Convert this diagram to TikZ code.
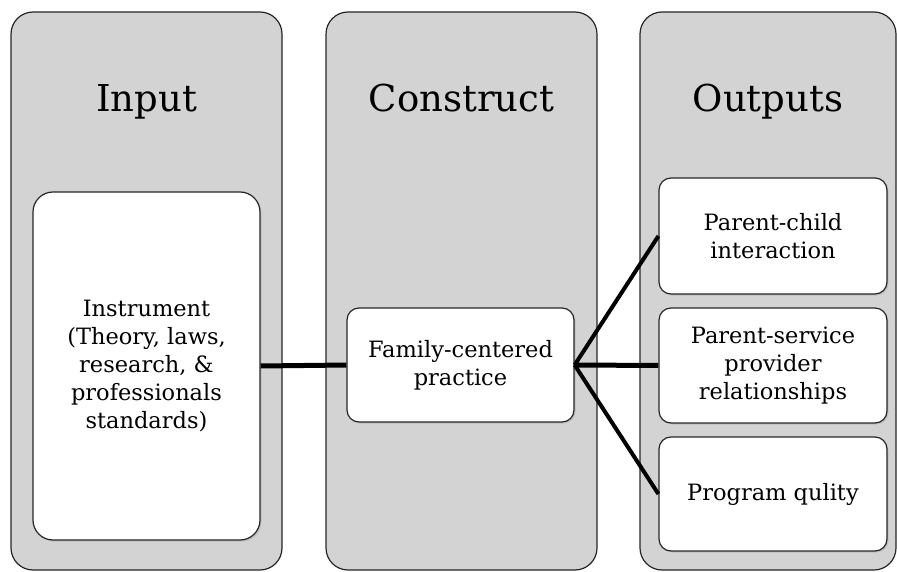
\documentclass[tikz,border=0pt]{standalone}
\usepackage{fontspec}
\setmainfont{DejaVu Serif}
\usetikzlibrary{positioning,shadows}
\definecolor{PanelGray}{HTML}{D3D3D3}

\begin{document}
\begin{tikzpicture}[x=1pt,y=-1pt,
  panel/.style={draw=black!85, line width=1.2pt, fill=PanelGray, rounded corners=22pt,
    minimum width=#1, minimum height=558pt, inner sep=0pt},
  title/.style={font=\fontsize{37}{40}\selectfont, anchor=base},
  card/.style={draw=black!85, line width=1.2pt, fill=white, rounded corners=12pt,
    align=center, inner sep=0pt, font=\fontsize{22.5}{28}\selectfont,
    drop shadow={shadow xshift=1.5pt, shadow yshift=-1.5pt, opacity=0.25}},
  link/.style={line width=4pt}]
  \useasboundingbox (0,0) rectangle (897,572);
  % columns
  \node[panel=271pt] (pin) at (146.5,291) {};
  \node[panel=271pt] (pcon) at (461.5,291) {};
  \node[panel=256pt] (pout) at (768,291) {};
  \node[title] (tin) at (146.5,112) {Input};
  \node[title] (tcon) at (461.5,112) {Construct};
  \node[title] (tout) at (768,112) {Outputs};
  % boxes
  \node[card, rounded corners=20pt, minimum width=227pt, minimum height=348pt] (instr) at (146.5,366)
    {Instrument\\(Theory, laws,\\research, \&\\professionals\\standards)};
  \node[card, minimum width=227pt, minimum height=114pt] (fcp) at (460.5,365)
    {Family-centered\\practice};
  \node[card, minimum width=228pt, minimum height=116pt] (pci) at (773,236)
    {Parent-child\\interaction};
  \node[card, minimum width=228pt, minimum height=115pt] (psp) at (773,365.5)
    {Parent-service\\provider\\relationships};
  \node[card, minimum width=228pt, minimum height=114pt] (pq) at (773,494)
    {Program qulity};
  % connectors
  \draw[link, line width=5pt] (instr.east) -- (fcp.west);
  \draw[link, line width=5pt] (fcp.east) -- (psp.west);
  \draw[link] (fcp.east) -- (pci.west);
  \draw[link] (fcp.east) -- (pq.west);
\end{tikzpicture}
\end{document}
